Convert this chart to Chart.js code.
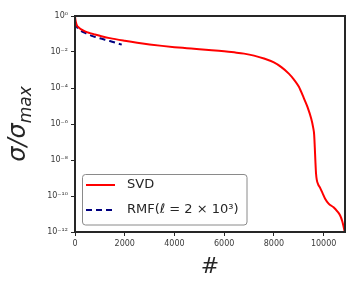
<!DOCTYPE html>
<html>
<head>
<meta charset="utf-8">
<script src="https://cdn.jsdelivr.net/npm/chart.js@4.4.1/dist/chart.umd.min.js"></script>
<style>
html,body{margin:0;padding:0;background:#fff;}
#c{display:block;}
</style>
</head>
<body>
<canvas id="c" width="360" height="288"></canvas>
<script>
// ---- data ----
const svdIndex = [0, 10, 30, 70, 150, 250, 400, 600, 800, 1000, 1400, 2000, 2500, 3000, 3500, 4000, 4500, 5000, 5500, 6000, 6400, 6800, 7200, 7600, 8000, 8300, 8600, 8800, 9000, 9200, 9350, 9500, 9580, 9620, 9645, 9670, 9695, 9725, 9780, 9860, 9960, 10060, 10200, 10400, 10550, 10660, 10750, 10800, 10850];
const svdValues = [1.0, 0.708, 0.501, 0.316, 0.229, 0.182, 0.141, 0.112, 0.0933, 0.0794, 0.0589, 0.0417, 0.0324, 0.0263, 0.0219, 0.0186, 0.0162, 0.0141, 0.0126, 0.0110, 0.00955, 0.00813, 0.00631, 0.00437, 0.00263, 0.00145, 6.31e-4, 3.02e-4, 1.20e-4, 2.82e-5, 8.91e-6, 2.0e-6, 6.31e-7, 2.51e-7, 5.01e-8, 7.94e-9, 1.78e-9, 7.94e-10, 4.47e-10, 2.82e-10, 1.41e-10, 7.08e-11, 3.80e-11, 2.34e-11, 1.41e-11, 8.51e-12, 3.98e-12, 2.09e-12, 1.0e-12];
const rmfIndex = [20, 70, 200, 400, 737, 1000, 1400, 1880];
const rmfValues = [0.417, 0.263, 0.166, 0.117, 0.0741, 0.0575, 0.0407, 0.0257];
const seriesLabels = ['SVD', 'RMF(ℓ = 2 × 10³)'];
const xTickValues = [0, 2000, 4000, 6000, 8000, 10000];
const yTickValues = [1e-12, 1e-10, 1e-8, 1e-6, 1e-4, 1e-2, 1];
const yTickLabels = ['10⁻¹²', '10⁻¹⁰', '10⁻⁸', '10⁻⁶', '10⁻⁴', '10⁻²', '10⁰'];
const xTitle = '#';
const yTitleMain = 'σ/σ';
const yTitleSub = 'max';

const xMax = 10860;
const dark = '#262626';
const tickFont = {family: 'DejaVu Sans', size: 8};

const pairs = (xs, ys) => xs.map((x, i) => ({x: x, y: ys[i]}));

const framePlugin = {
  id: 'frame',
  afterDraw(chart) {
    const ctx = chart.ctx, a = chart.chartArea;
    ctx.save();
    // frame
    ctx.strokeStyle = dark;
    ctx.lineWidth = 2;
    ctx.strokeRect(a.left, a.top, a.right - a.left, a.bottom - a.top);

    // legend
    const ds = chart.data.datasets;
    const bx = 82.5, by = 174.5, bw = 164.5, bh = 50.5, r = 3;
    ctx.beginPath();
    ctx.moveTo(bx + r, by);
    ctx.lineTo(bx + bw - r, by);
    ctx.arcTo(bx + bw, by, bx + bw, by + r, r);
    ctx.lineTo(bx + bw, by + bh - r);
    ctx.arcTo(bx + bw, by + bh, bx + bw - r, by + bh, r);
    ctx.lineTo(bx + r, by + bh);
    ctx.arcTo(bx, by + bh, bx, by + bh - r, r);
    ctx.lineTo(bx, by + r);
    ctx.arcTo(bx, by, bx + r, by, r);
    ctx.closePath();
    ctx.fillStyle = 'rgba(255,255,255,0.85)';
    ctx.fill();
    ctx.strokeStyle = '#8a8a8a';
    ctx.lineWidth = 1;
    ctx.stroke();

    const rows = [185, 210];
    ds.forEach((d, i) => {
      const y = rows[i];
      ctx.beginPath();
      ctx.setLineDash(d.borderDash || []);
      ctx.strokeStyle = d.borderColor;
      ctx.lineWidth = d.borderWidth;
      ctx.moveTo(86, y);
      ctx.lineTo(115, y);
      ctx.stroke();
      ctx.setLineDash([]);
      ctx.fillStyle = dark;
      ctx.font = '13px "DejaVu Sans"';
      ctx.textBaseline = 'middle';
      ctx.textAlign = 'left';
      ctx.fillText(d.label, 127, y);
    });

    // x title
    ctx.fillStyle = dark;
    ctx.font = '22px "DejaVu Sans"';
    ctx.textAlign = 'center';
    ctx.textBaseline = 'alphabetic';
    ctx.fillText(xTitle, (a.left + a.right) / 2, 273);

    // y title (rotated)
    ctx.save();
    ctx.translate(25, (a.top + a.bottom) / 2);
    ctx.rotate(-Math.PI / 2);
    ctx.font = 'italic 24px "DejaVu Sans"';
    const w1 = ctx.measureText(yTitleMain).width;
    ctx.font = 'italic 17px "DejaVu Sans"';
    const w2 = ctx.measureText(yTitleSub).width;
    const start = -(w1 + w2) / 2;
    ctx.textAlign = 'left';
    ctx.font = 'italic 24px "DejaVu Sans"';
    ctx.fillText(yTitleMain, start, 0);
    ctx.font = 'italic 17px "DejaVu Sans"';
    ctx.fillText(yTitleSub, start + w1, 6);
    ctx.restore();

    ctx.restore();
  }
};

new Chart(document.getElementById('c'), {
  type: 'line',
  data: {
    datasets: [
      {
        label: seriesLabels[0],
        data: pairs(svdIndex, svdValues),
        borderColor: '#ff0000',
        borderWidth: 2,
        pointRadius: 0,
        fill: false,
        cubicInterpolationMode: 'monotone'
      },
      {
        label: seriesLabels[1],
        data: pairs(rmfIndex, rmfValues),
        borderColor: '#000080',
        borderWidth: 2,
        borderDash: [6, 4],
        pointRadius: 0,
        fill: false,
        cubicInterpolationMode: 'monotone'
      }
    ]
  },
  options: {
    responsive: false,
    devicePixelRatio: 1,
    animation: false,
    layout: {padding: {left: 0, top: 16, right: 15, bottom: 0}},
    plugins: {legend: {display: false}, tooltip: {enabled: false}},
    scales: {
      x: {
        type: 'linear',
        min: 0,
        max: xMax,
        afterBuildTicks: s => { s.ticks = xTickValues.map(v => ({value: v})); },
        afterFit: s => { s.height = 56; },
        grid: {drawOnChartArea: false, drawTicks: true, tickLength: 4, tickColor: dark, tickWidth: 1},
        border: {display: true, color: dark, width: 2},
        ticks: {font: tickFont, color: '#3a3a3a', padding: 3, maxRotation: 0, callback: v => String(v)}
      },
      y: {
        type: 'logarithmic',
        min: 1e-12,
        max: 1,
        afterBuildTicks: s => { s.ticks = yTickValues.map(v => ({value: v})); },
        afterFit: s => { s.width = 75; },
        grid: {drawOnChartArea: false, drawTicks: true, tickLength: 4, tickColor: dark, tickWidth: 1},
        border: {display: true, color: dark, width: 2},
        ticks: {font: tickFont, color: '#3a3a3a', padding: 3,
          callback: function(v) { const i = yTickValues.indexOf(v); return i >= 0 ? yTickLabels[i] : ''; }}
      }
    }
  },
  plugins: [framePlugin]
});
</script>
</body>
</html>
